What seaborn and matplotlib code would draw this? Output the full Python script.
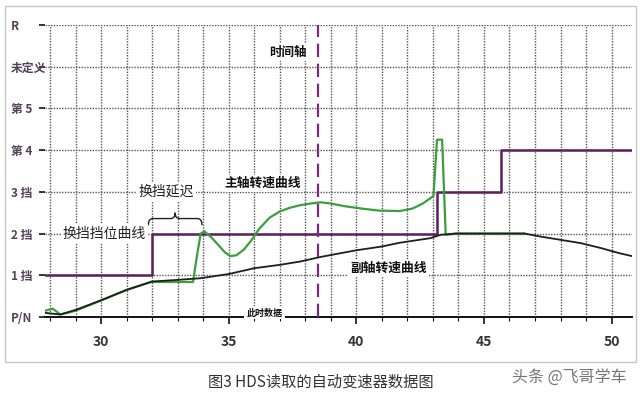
import matplotlib.pyplot as plt
import matplotlib.patches as mpatches
from matplotlib.path import Path
import seaborn as sns

# gear positions on the y axis, bottom to top
GEAR_LABELS = ["P/N", "1 挡", "2 挡", "3 挡", "第 4", "第 5", "未定义", "R"]

# shift position curve (step)
gear_time = [27.8, 32.0, 43.16, 45.65, 50.8]
gear_level = [1, 2, 3, 4, 4]

# main shaft speed (green)
main_time = [27.8, 28.1, 28.4, 29.0, 30.0, 31.0, 32.0, 32.05, 33.6, 33.75, 33.9,
             34.05, 34.3, 34.6, 34.85, 35.06, 35.3, 35.6, 35.9, 36.2, 36.6,
             37.0, 37.4, 37.8, 38.2, 38.6, 39.0, 39.5, 40.2, 40.9, 41.7, 42.2,
             42.6, 43.02, 43.16, 43.36, 43.5, 43.9, 46.6]
main_speed = [0.15, 0.2, 0.06, 0.15, 0.4, 0.65, 0.85, 0.84, 0.84, 1.45, 2.0,
              2.05, 1.92, 1.72, 1.55, 1.46, 1.48, 1.62, 1.85, 2.12, 2.38,
              2.53, 2.62, 2.68, 2.72, 2.75, 2.72, 2.66, 2.6, 2.55, 2.54, 2.6,
              2.72, 2.9, 4.25, 4.25, 1.97, 2.0, 2.0]

# counter shaft speed (black)
counter_time = [27.8, 28.4, 29.0, 30.0, 31.0, 32.0, 33.0, 33.9, 35.0, 36.0, 37.0,
                37.8, 38.6, 40.0, 41.0, 41.7, 42.9, 43.3, 43.9, 45.0, 46.6, 47.2,
                48.0, 48.8, 49.6, 50.3, 50.8]
counter_speed = [0.1, 0.06, 0.17, 0.4, 0.65, 0.85, 0.89, 0.93, 1.03, 1.17, 1.25,
                 1.33, 1.44, 1.6, 1.69, 1.78, 1.89, 1.97, 2.0, 2.0, 2.0, 1.93,
                 1.85, 1.77, 1.65, 1.53, 1.46]

TIME_MARK = 38.5
X_MIN, X_MAX = 27.8, 50.8

GEAR_COLOR = "#5c1f5c"
MAIN_COLOR = "#3b9f3b"
COUNTER_COLOR = "#1e1e1e"
MARK_COLOR = "#7a2a7a"
LABEL_COLOR = "#55405a"


def draw_brace(ax, x0, x1, y_end, y_flat, y_tip, bend=0.18):
    xm = (x0 + x1) / 2
    verts = [
        (x0, y_end), (x0, y_flat), (x0 + bend, y_flat),
        (xm - bend, y_flat), (xm, y_flat), (xm, y_tip),
        (xm, y_flat), (xm + bend, y_flat),
        (x1 - bend, y_flat), (x1, y_flat), (x1, y_end),
    ]
    codes = [
        Path.MOVETO, Path.CURVE3, Path.CURVE3,
        Path.LINETO, Path.CURVE3, Path.CURVE3,
        Path.CURVE3, Path.CURVE3,
        Path.LINETO, Path.CURVE3, Path.CURVE3,
    ]
    ax.add_patch(mpatches.PathPatch(Path(verts, codes), facecolor="none",
                                    edgecolor="#222222", lw=1.0, zorder=4))


sns.set_theme(style="white")
plt.rcParams["font.family"] = ["Noto Sans CJK SC", "DejaVu Sans"]

fig = plt.figure(figsize=(6.4, 3.96), dpi=100)
ax = fig.add_axes([45 / 640, 1 - 317 / 396, 587 / 640, 292 / 396])

# outer frame of the picture
fig.patches.append(mpatches.Rectangle((5 / 640, 1 - 362 / 396), 631 / 640, 356 / 396,
                                      transform=fig.transFigure, fill=False,
                                      edgecolor="#c8c8c8", lw=1.0))

grid_kw = dict(color="#555555", lw=1.0, linestyle=(0, (1, 1)), zorder=0)
for level in range(1, len(GEAR_LABELS)):
    ax.axhline(level, **grid_kw)
for t in range(28, 51):
    ax.axvline(t, **grid_kw)

sns.lineplot(x=gear_time, y=gear_level, ax=ax, color=GEAR_COLOR, lw=1.8,
             drawstyle="steps-post", estimator=None, sort=False, zorder=2)
sns.lineplot(x=main_time, y=main_speed, ax=ax, color=MAIN_COLOR, lw=1.6,
             estimator=None, sort=False, zorder=3)
sns.lineplot(x=counter_time, y=counter_speed, ax=ax, color=COUNTER_COLOR, lw=1.3,
             estimator=None, sort=False, zorder=3)
ax.axvline(TIME_MARK, color=MARK_COLOR, lw=1.6, linestyle=(0, (6, 3)), zorder=5)

ax.set_xlim(X_MIN, X_MAX)
ax.set_ylim(0, len(GEAR_LABELS) - 1)
for side in ["top", "right", "left"]:
    ax.spines[side].set_visible(False)
ax.spines["bottom"].set_color("#111111")
ax.spines["bottom"].set_linewidth(1.4)

ax.set_yticks(range(len(GEAR_LABELS)))
ax.set_yticklabels(GEAR_LABELS, ha="left", color=LABEL_COLOR, fontsize=8.5,
                   fontweight="bold")
ax.tick_params(axis="y", left=True, length=4, width=1.2, color="#111111", pad=20.5)
ax.set_xticks(range(30, 51, 5))
ax.set_xticks(range(28, 51), minor=True)
ax.tick_params(axis="x", which="major", bottom=True, length=5, width=1.2,
               color="#111111", pad=8, labelsize=10, labelcolor="#333333")
ax.tick_params(axis="x", which="minor", bottom=True, length=3, width=0.8,
               color="#111111")
for label in ax.get_xticklabels():
    label.set_fontweight("bold")
ax.set_xlabel("")
ax.set_ylabel("")

box = dict(facecolor="white", edgecolor="none", pad=1.5)
ax.text(37.33, 6.35, "时间轴", ha="center", va="center", fontsize=9,
        fontweight="bold", color="#111111", bbox=box, zorder=6)
ax.text(36.31, 3.2, "主轴转速曲线", ha="center", va="center", fontsize=9.2,
        fontweight="bold", color="#111111", bbox=box, zorder=6)
ax.text(32.55, 3.0, "换挡延迟", ha="center", va="center", fontsize=10,
        color="#222222", bbox=box, zorder=6)
ax.text(30.12, 2.0, "换挡挡位曲线", ha="center", va="center", fontsize=10,
        color="#222222", bbox=box, zorder=6)
ax.text(41.25, 1.17, "副轴转速曲线", ha="center", va="center", fontsize=9.2,
        fontweight="bold", color="#111111", bbox=box, zorder=6)
ax.text(36.4, 0.1, "此时数据", ha="center", va="center", fontsize=6.5,
        fontweight="bold", style="italic", color="#111111", bbox=box, zorder=6)
draw_brace(ax, 31.85, 33.95, 2.2, 2.36, 2.5)

fig.text(321 / 640, 1 - 382 / 396, "图3 HDS读取的自动变速器数据图", ha="center",
         va="center", fontsize=11, color="#333333")
fig.text(512 / 640, 1 - 378 / 396, "头条 @飞哥学车", ha="left", va="center",
         fontsize=11.5, color="#777777")

fig.savefig("out.png", dpi=100)
